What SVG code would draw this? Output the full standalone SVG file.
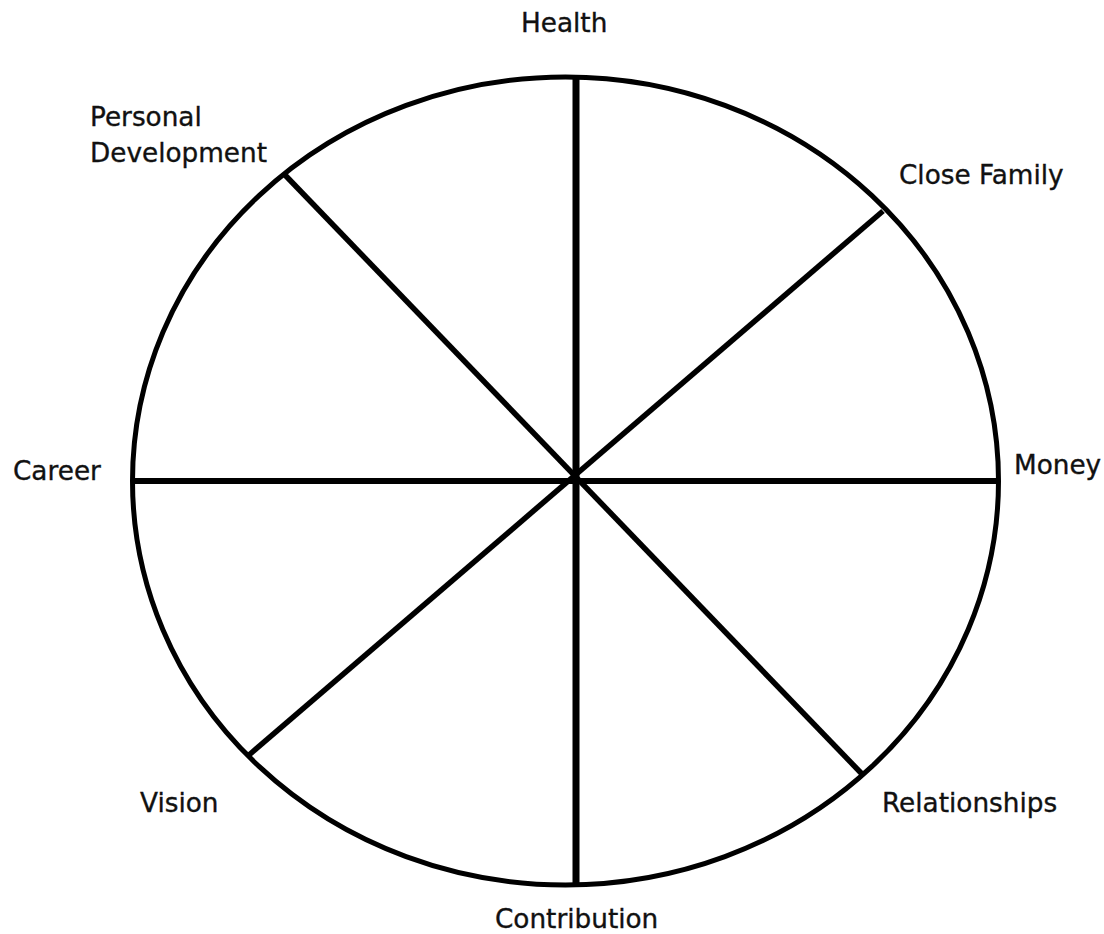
<svg xmlns="http://www.w3.org/2000/svg" width="1104" height="934" viewBox="0 0 1104 934">
<style>
.lbl{font-family:"DejaVu Sans","Verdana",sans-serif;font-size:26.3px;fill:#111;stroke:#111;stroke-width:0.35px}
.sp{stroke:#000;fill:none;stroke-linecap:butt}
</style>
<rect width="1104" height="934" fill="#fff"/>
<g id="wheel">
<ellipse cx="565.5" cy="481" rx="433" ry="404" fill="none" stroke="#000" stroke-width="5"/>
</g>
<g id="connectors">
<line class="sp" x1="576" y1="77" x2="576" y2="886" stroke-width="7"/>
<line class="sp" x1="133" y1="481" x2="998" y2="481" stroke-width="6"/>
<line class="sp" x1="285" y1="175" x2="862" y2="774" stroke-width="5.5"/>
<line class="sp" x1="883" y1="211" x2="249" y2="755" stroke-width="5.5"/>
</g>
<g id="health"><text class="lbl" x="521" y="32">Health</text></g>
<g id="personal-development"><text class="lbl" x="90" y="126">Personal</text><text class="lbl" x="90" y="162">Development</text></g>
<g id="close-family"><text class="lbl" x="899" y="184">Close Family</text></g>
<g id="career"><text class="lbl" x="13" y="480">Career</text></g>
<g id="money"><text class="lbl" x="1014" y="474">Money</text></g>
<g id="vision"><text class="lbl" x="140" y="812">Vision</text></g>
<g id="relationships"><text class="lbl" x="882" y="812">Relationships</text></g>
<g id="contribution"><text class="lbl" x="495" y="928">Contribution</text></g>
</svg>
